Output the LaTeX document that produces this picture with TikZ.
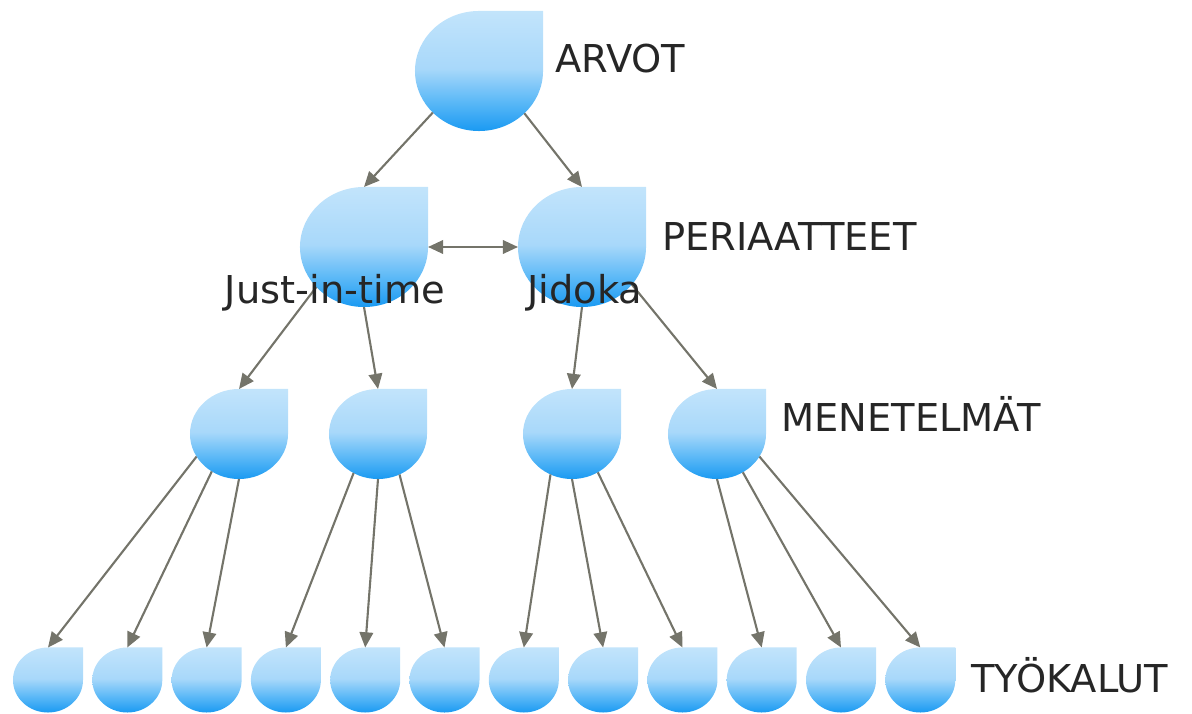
\documentclass[tikz,border=0pt]{standalone}
\usepackage{fontspec}
\setmainfont{DejaVu Sans}
\usepackage{xcolor}
\usetikzlibrary{arrows.meta}
\usetikzlibrary{shapes.geometric}

\definecolor{droptop}{HTML}{C2E4FB}
\definecolor{droplight}{HTML}{A8D8FA}
\definecolor{dropmid}{HTML}{5FBAF7}
\definecolor{dropbot}{HTML}{1A9AF2}
\definecolor{linkgray}{HTML}{74746A}
\definecolor{labelgray}{HTML}{262626}

\pgfdeclareverticalshading{dropshade}{100bp}{color(0bp)=(dropbot); color(25bp)=(dropbot); color(38bp)=(dropmid); color(51bp)=(droplight); color(75bp)=(droptop); color(100bp)=(droptop)}

% drop: round shape with a square top right corner
\newcommand{\dropshape}[3]{\shade[shading=dropshade] (#1.north -| #1.east) -- (#1.north) arc[start angle=90, end angle=360, x radius=#2, y radius=#3] -- cycle;}

\begin{document}
\begin{tikzpicture}[x=0.025cm, y=0.025cm,
      drop/.style={ellipse, inner sep=0pt, outer sep=0pt, minimum width=3.2cm, minimum height=3cm},
      mdrop/.style={drop, minimum width=2.45cm, minimum height=2.25cm},
      tdrop/.style={drop, minimum width=1.75cm, minimum height=1.625cm},
      lbl/.style={font=\fontsize{27.3}{32}\selectfont, text=labelgray, inner sep=0pt},
      conn/.style={draw=linkgray, line width=1.5pt, -{Triangle[length=0.38cm,width=0.34cm]}},
      both/.style={conn, {Triangle[length=0.38cm,width=0.34cm]}-{Triangle[length=0.38cm,width=0.34cm]}}]

      \useasboundingbox (0,0) rectangle (1192,713);

      \node[drop] (arvot) at (479,642) {};
      \node[drop] (jit) at (364,466) {};
      \node[drop] (jidoka) at (582,466) {};

      \node[mdrop] (m1) at (239,279) {};
      \node[mdrop] (m2) at (378,279) {};
      \node[mdrop] (m3) at (572,279) {};
      \node[mdrop] (m4) at (717,279) {};

      \foreach \i in {1,...,12}
        \node[tdrop] (t\i) at ({48+79.3*(\i-1)},33) {};

      \foreach \n in {arvot,jit,jidoka}
        {\dropshape{\n}{1.6cm}{1.5cm}}
      \foreach \n in {m1,m2,m3,m4}
        {\dropshape{\n}{1.225cm}{1.125cm}}
      \foreach \n in {t1,t2,t3,t4,t5,t6,t7,t8,t9,t10,t11,t12}
        {\dropshape{\n}{0.875cm}{0.8125cm}}

      \path[every edge/.style={conn}]
        (arvot.222) edge (jit.north)
        (arvot.317) edge (jidoka.north)
        (jit.east) edge[both] (jidoka.west)

        (jit.220) edge (m1.north)
        (jit.south) edge (m2.north)
        (jidoka.south) edge (m3.north)
        (jidoka.323) edge (m4.north)

        (m1.208) edge (t1.north)
        (m1.234) edge (t2.north)
        (m1.south) edge (t3.north)

        (m2.238) edge (t4.north)
        (m2.south) edge (t5.north)
        (m2.298) edge (t6.north)

        (m3.242) edge (t7.north)
        (m3.south) edge (t8.north)
        (m3.304) edge (t9.north)

        (m4.south) edge (t10.north)
        (m4.304) edge (t11.north)
        (m4.332) edge (t12.north)
        ;

      \node[lbl, anchor=base west] (arvotlbl) at (555,640) {ARVOT};
      \node[lbl, anchor=base west] (perilbl) at (662,462) {PERIAATTEET};
      \node[lbl, anchor=base west] (menlbl) at (781,282) {MENETELMÄT};
      \node[lbl, anchor=base west] (tyolbl) at (971,21) {TYÖKALUT};
      \node[lbl, anchor=base] (jitlbl) at (335,410) {Just-in-time};
      \node[lbl, anchor=base] (jidokalbl) at (585,410) {Jidoka};

    \end{tikzpicture}
\end{document}
